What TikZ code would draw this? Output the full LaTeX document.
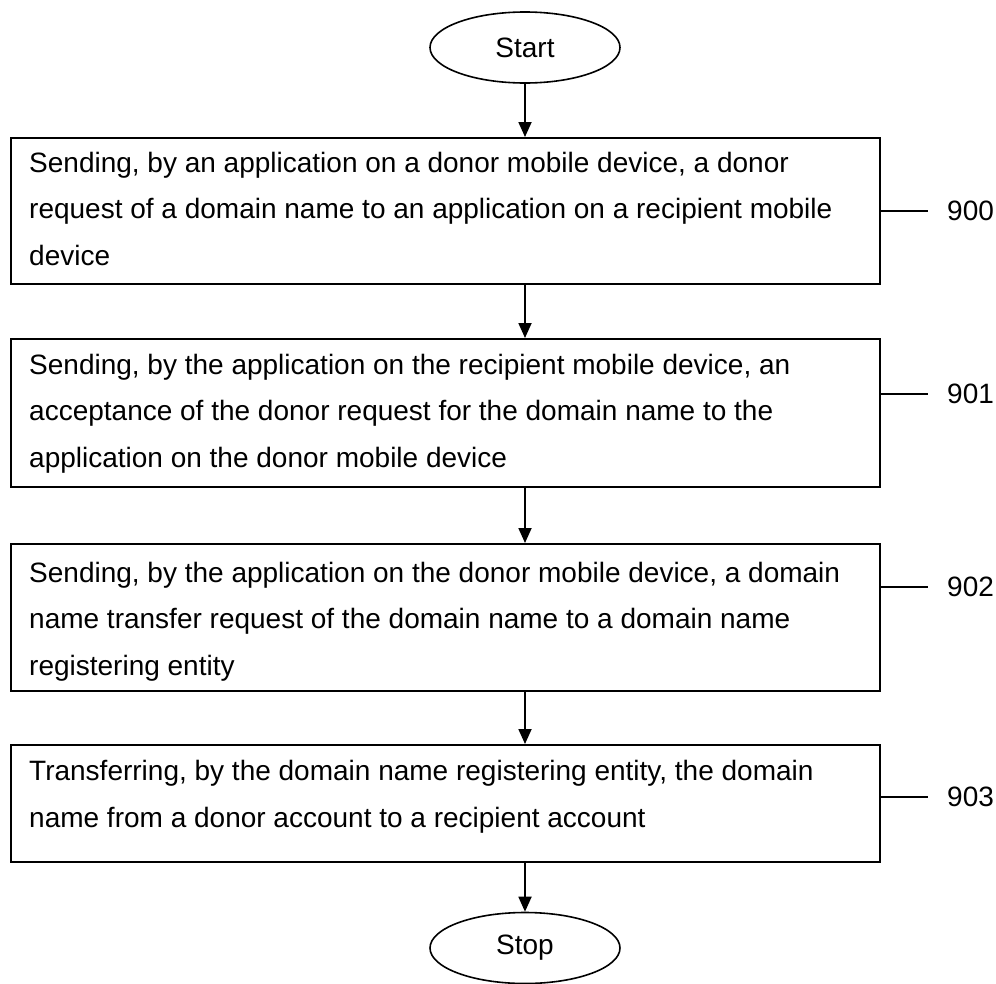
\documentclass[tikz,border=0pt]{standalone}
\usepackage{fontspec}
\setmainfont{Liberation Sans}
\usetikzlibrary{arrows.meta,shapes.geometric}
\begin{document}
\begin{tikzpicture}[x=1pt,y=-1pt,
  stepbox/.style={draw,line width=2pt,minimum width=869pt,inner sep=0pt,anchor=north west},
  steptext/.style={anchor=base west,align=left,inner sep=0pt,font=\fontsize{28}{46.5}\selectfont},
  term/.style={draw,ellipse,line width=1.6pt,minimum width=190pt,minimum height=71pt,inner sep=0pt,font=\fontsize{28}{34}\selectfont},
  flow/.style={line width=1.8pt,-{Triangle[length=15pt,width=13pt]}},
  lead/.style={line width=1.8pt},
  reflabel/.style={anchor=west,inner sep=0pt,font=\fontsize{28}{34}\selectfont}]
\useasboundingbox (0,0) rectangle (996,983);
% terminals
\node[term] (start) at (525,47.5) {Start};
\node[term] (stop) at (525,948) {Stop};
% step boxes
\node[stepbox,minimum height=146pt] (b900) at (10,137) {};
\node[stepbox,minimum height=148pt] (b901) at (10,338) {};
\node[stepbox,minimum height=147pt] (b902) at (10,543) {};
\node[stepbox,minimum height=117pt] (b903) at (10,744) {};
% step texts (anchored at the baseline of their last line)
\node[steptext] (t900) at (29,265) {Sending, by an application on a donor mobile device, a donor\\request of a domain name to an application on a recipient mobile\\device};
\node[steptext] (t901) at (29,467) {Sending, by the application on the recipient mobile device, an\\acceptance of the donor request for the domain name to the\\application on the donor mobile device};
\node[steptext] (t902) at (29,675) {Sending, by the application on the donor mobile device, a domain\\name transfer request of the domain name to a domain name\\registering entity};
\node[steptext] (t903) at (29,827) {Transferring, by the domain name registering entity, the domain\\name from a donor account to a recipient account};
% reference labels
\node[reflabel] (l900) at (947,211) {900};
\node[reflabel] (l901) at (947,394) {901};
\node[reflabel] (l902) at (947,587) {902};
\node[reflabel] (l903) at (947,797) {903};
\foreach \n in {900,901,902,903}
  \draw[lead] (b\n.east |- l\n.west) -- ([xshift=-19pt]l\n.west);
% flow arrows
\draw[flow] (start.south) -- (b900.north -| start);
\draw[flow] (b900.south -| start) -- (b901.north -| start);
\draw[flow] (b901.south -| start) -- (b902.north -| start);
\draw[flow] (b902.south -| start) -- (b903.north -| start);
\draw[flow] (b903.south -| start) -- (stop.north);
\end{tikzpicture}
\end{document}
